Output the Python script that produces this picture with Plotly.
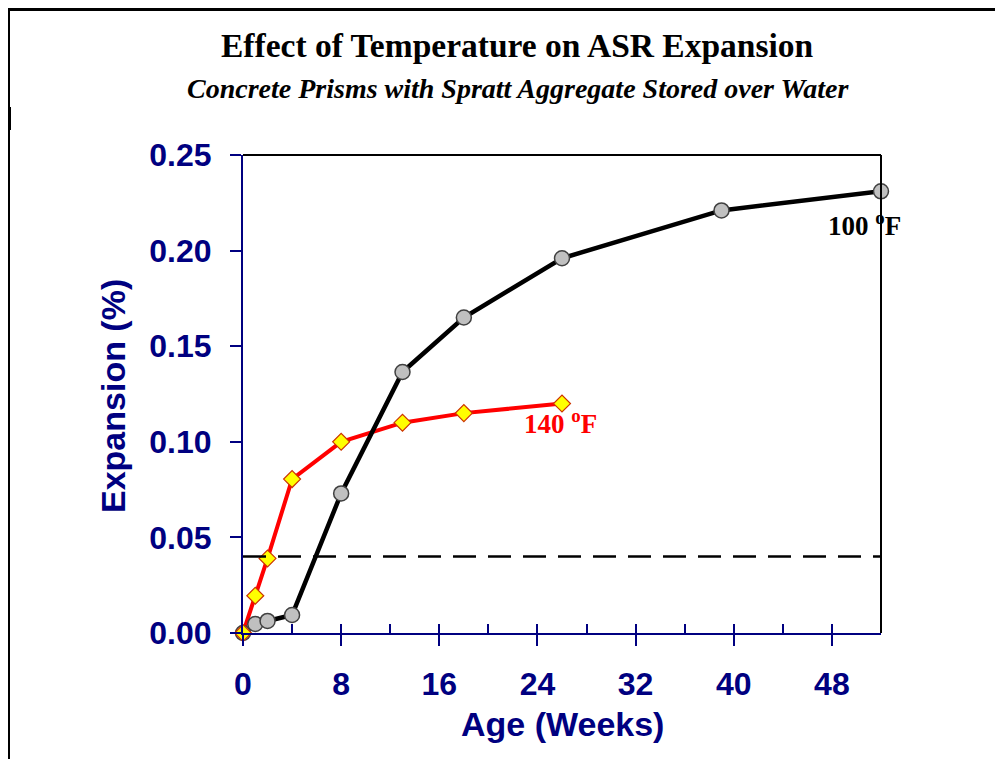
import plotly.graph_objects as go

# Data
weeks_100 = [0, 1, 2, 4, 8, 13, 18, 26, 39, 52]
exp_100 = [0.0, 0.0047, 0.0063, 0.0094, 0.073, 0.1365, 0.165, 0.196, 0.221, 0.231]
weeks_140 = [0, 1, 2, 4, 8, 13, 18, 26]
exp_140 = [0.0, 0.0195, 0.039, 0.0805, 0.100, 0.110, 0.115, 0.120]
limit_x = [0, 52]
limit_y = [0.04, 0.04]
x_ticks = [0, 8, 16, 24, 32, 40, 48]
y_ticks = [0.00, 0.05, 0.10, 0.15, 0.20, 0.25]

NAVY = "#000080"
fig = go.Figure()

fig.add_trace(go.Scatter(x=limit_x, y=limit_y, mode="lines", xaxis="x2",
                         line=dict(color="black", width=2.5, dash="23px,12px"),
                         hoverinfo="skip", showlegend=False))
# lines
fig.add_trace(go.Scatter(x=weeks_140, y=exp_140, mode="lines", cliponaxis=False,
                         line=dict(color="#ff0000", width=4), showlegend=False))
fig.add_trace(go.Scatter(x=weeks_100, y=exp_100, mode="lines", cliponaxis=False,
                         line=dict(color="black", width=4.5), showlegend=False))
# markers
fig.add_trace(go.Scatter(x=weeks_100, y=exp_100, mode="markers", cliponaxis=False,
                         marker=dict(symbol="circle", size=15, color="#c0c0c0",
                                     line=dict(color="#404040", width=1.5)),
                         showlegend=False))
fig.add_trace(go.Scatter(x=weeks_140, y=exp_140, mode="markers", cliponaxis=False,
                         marker=dict(symbol="diamond", size=13, color="#ffff00",
                                     line=dict(color="#cc3300", width=1.2)),
                         showlegend=False))

# page body has an 8px margin; target pixel positions are page coordinates
OFF = 8
L, R, T, B = 243 - OFF, 881 - OFF, 155 - OFF, 633 - OFF
W, H = 1003 - OFF, 759 - OFF
pw, ph = R - L, B - T

def px(x):
    return (x - OFF - L) / pw

def py(y):
    return (B - (y - OFF)) / ph

fig.update_layout(
    width=W, height=H,
    margin=dict(l=L, r=W - R, t=T, b=H - B, pad=0),
    paper_bgcolor="white", plot_bgcolor="white",
    showlegend=False,
    xaxis=dict(range=[0, 52], tickmode="array", tickvals=x_ticks,
               ticks="outside", ticklen=11, tickwidth=2, tickcolor=NAVY,
               showline=True, linecolor=NAVY, linewidth=2, showgrid=False, zeroline=False,
               tickfont=dict(family="Liberation Sans", size=32, color=NAVY, weight="bold"),
               ticklabelstandoff=11),
    xaxis2=dict(range=[0, 52], overlaying="x", anchor="y", side="bottom", dtick=4, tick0=0,
                ticks="inside", ticklen=9, tickwidth=2, tickcolor=NAVY,
                showticklabels=False, showline=False, showgrid=False, zeroline=False),
    yaxis=dict(range=[0, 0.25], tickmode="array", tickvals=y_ticks, tickformat=".2f",
               ticks="outside", ticklen=11, tickwidth=2, tickcolor=NAVY,
               showline=True, linecolor=NAVY, linewidth=2, showgrid=False, zeroline=False,
               tickfont=dict(family="Liberation Sans", size=32, color=NAVY, weight="bold"),
               ticklabelstandoff=12),
)

# Plot frame top and right (black)
fig.add_shape(type="line", xref="paper", yref="paper", x0=0, x1=1, y0=1, y1=1,
              line=dict(color="black", width=2))
fig.add_shape(type="line", xref="paper", yref="paper", x0=1, x1=1, y0=0, y1=1,
              line=dict(color="black", width=2))
# Outer image border
fig.add_shape(type="line", xref="paper", yref="paper", x0=px(8), x1=px(1003), y0=py(9.5), y1=py(9.5),
              line=dict(color="black", width=3))
fig.add_shape(type="line", xref="paper", yref="paper", x0=px(9), x1=px(9), y0=py(8), y1=py(759),
              line=dict(color="black", width=2))
fig.add_shape(type="line", xref="paper", yref="paper", x0=px(9.5), x1=px(9.5), y0=py(107), y1=py(130),
              line=dict(color="black", width=3))

ann = [
    dict(text="<b>Effect of Temperature on ASR Expansion</b>", x=px(517), y=py(45),
         font=dict(family="Liberation Serif", size=33.5, color="black")),
    dict(text="<b><i>Concrete Prisms with Spratt Aggregate Stored over Water</i></b>", x=px(518), y=py(89),
         font=dict(family="Liberation Serif", size=28, color="black")),
    dict(text="<b>Expansion (%)</b>", x=px(113), y=py(396), textangle=-90,
         font=dict(family="Liberation Sans", size=34, color=NAVY)),
    dict(text="<b>Age (Weeks)</b>", x=px(562), y=py(724),
         font=dict(family="Liberation Sans", size=34, color=NAVY)),
    dict(text="<b>100 <sup>o</sup>F</b>", x=px(864), y=py(224),
         font=dict(family="Liberation Serif", size=27, color="black")),
    dict(text="<b>140 <sup>o</sup>F</b>", x=px(560), y=py(422),
         font=dict(family="Liberation Serif", size=27, color="#ff0000")),
]
for a in ann:
    a.update(xref="paper", yref="paper", showarrow=False, xanchor="center", yanchor="middle")
    fig.add_annotation(**a)

fig.write_html("out.html")
